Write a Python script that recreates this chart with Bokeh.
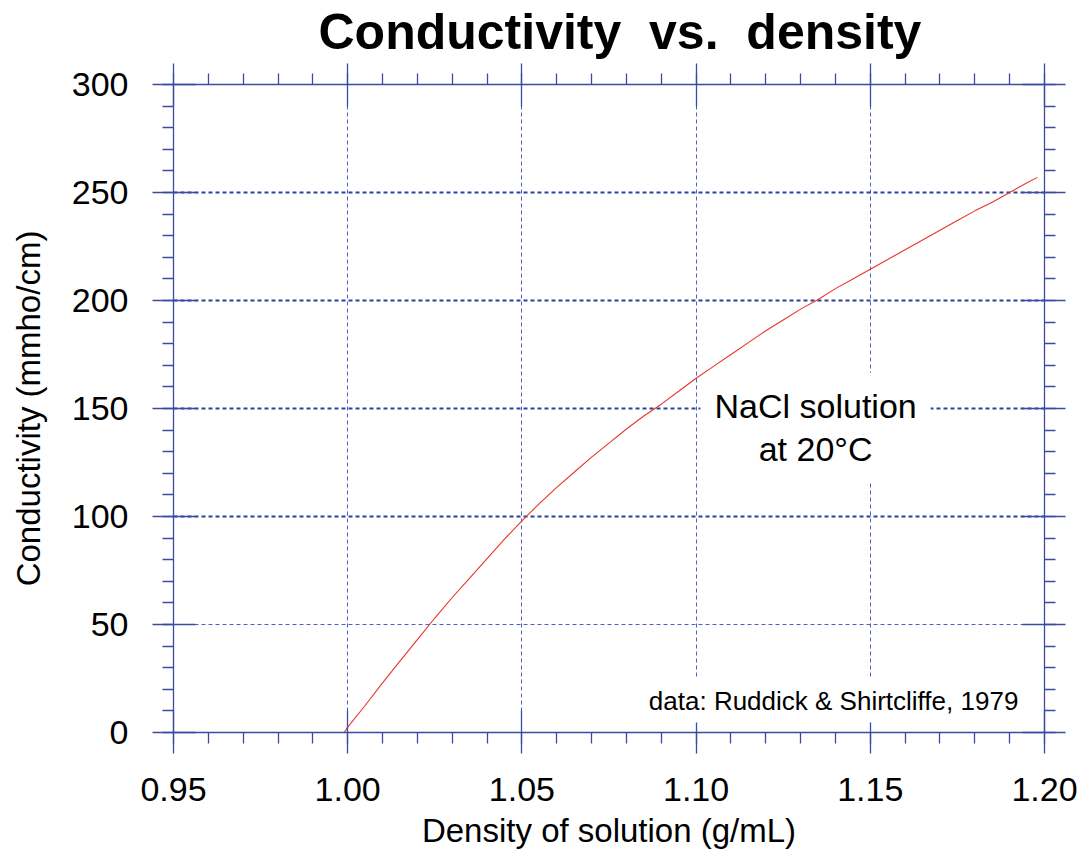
from bokeh.plotting import figure
from bokeh.models import (Range1d, LinearAxis, FixedTicker, Grid, Label, Title,
                          SingleIntervalTicker, PrintfTickFormatter,
                          CustomLabelingPolicy)
from bokeh.embed import file_html
from bokeh.resources import INLINE

# Conductivity of NaCl solutions at 20 °C against solution density
density = [0.999, 1.000, 1.005, 1.010, 1.015, 1.020, 1.025, 1.030, 1.035, 1.040,
           1.045, 1.050, 1.055, 1.060, 1.065, 1.070, 1.075, 1.080, 1.085, 1.090,
           1.095, 1.100, 1.105, 1.110, 1.115, 1.120, 1.125, 1.130, 1.135, 1.140,
           1.145, 1.150, 1.155, 1.160, 1.165, 1.170, 1.175, 1.180, 1.185, 1.190,
           1.195, 1.198]
conductivity = [0.0, 2.5, 12.5, 23.0, 33.0, 43.0, 53.0, 62.5, 71.5, 80.5,
                89.5, 98.0, 106.0, 113.5, 120.5, 127.5, 134.0, 140.5, 146.5, 152.0,
                158.0, 164.0, 169.5, 175.0, 180.5, 186.0, 191.0, 196.0, 200.5, 205.5,
                210.0, 214.5, 219.0, 223.5, 228.0, 232.5, 237.0, 241.5, 245.5, 250.0,
                254.5, 257.0]

x_major = [0.95, 1.00, 1.05, 1.10, 1.15, 1.20]
x_minor = [round(0.95 + 0.01 * i, 2) for i in range(26)]
x_grid_ticks = [1.00, 1.05, 1.10, 1.15]
y_grid_heavy = [100, 150, 200, 250]
y_grid_light = [50]

# non-breaking spaces keep the wide word gaps of the heading
title_text = "Conductivity\u00a0\u00a0vs.\u00a0\u00a0density"
x_title = "Density of solution (g/mL)"
y_title = "Conductivity (mmho/cm)"
note_text = "NaCl solution\nat 20\u00b0C"
source_text = "data: Ruddick & Shirtcliffe, 1979"

FONT = "Liberation Sans"
AXIS_BLUE = "#3a4ba3"
GRID_BLUE = "#2f42a0"
LIGHT_GRID = "#4c60c4"

p = figure(width=1078, height=852, output_backend="svg", toolbar_location=None,
           x_range=Range1d(0.95, 1.20), y_range=Range1d(0, 300),
           x_axis_type=None, y_axis_type=None,
           min_border_left=173, min_border_right=34,
           min_border_top=84, min_border_bottom=120)
p.outline_line_color = None
p.background_fill_color = "white"
p.border_fill_color = "white"

p.title = Title(text=title_text, text_font=FONT, text_font_size="50px",
                text_font_style="bold", text_color="black", align="left",
                offset=145, standoff=0)


def style_axis(ax, show_labels):
    ax.axis_line_color = AXIS_BLUE
    ax.axis_line_width = 1.3
    ax.major_tick_line_color = AXIS_BLUE
    ax.major_tick_line_width = 1.3
    ax.minor_tick_line_color = AXIS_BLUE
    ax.minor_tick_line_width = 1.3
    ax.major_tick_in = 22
    ax.major_tick_out = 21
    ax.minor_tick_in = 0
    ax.minor_tick_out = 11
    ax.major_label_text_font = FONT
    ax.major_label_text_color = "black"
    if show_labels:
        ax.major_label_text_font_size = "34px"
    else:
        # tick marks only, no numbers on the top and right frame edges
        ax.major_label_policy = CustomLabelingPolicy(code="return []")
        ax.major_label_text_font_size = "1px"
        ax.major_label_standoff = 0
    ax.axis_label_text_font = FONT
    ax.axis_label_text_font_style = "normal"
    ax.axis_label_text_font_size = "33px"
    ax.axis_label_text_color = "black"


def x_ticker():
    return FixedTicker(ticks=x_major, minor_ticks=x_minor)


def y_ticker():
    return SingleIntervalTicker(interval=50, num_minor_ticks=5)


xb = LinearAxis(ticker=x_ticker(), formatter=PrintfTickFormatter(format="%.2f"),
                axis_label=x_title)
style_axis(xb, True)
xb.major_label_standoff = 24
xb.axis_label_standoff = 8
p.add_layout(xb, "below")

xa = LinearAxis(ticker=x_ticker())
style_axis(xa, False)
p.add_layout(xa, "above")

yl = LinearAxis(ticker=y_ticker(), axis_label=y_title)
style_axis(yl, True)
yl.major_label_standoff = 24
yl.axis_label_standoff = 22
p.add_layout(yl, "left")

yr = LinearAxis(ticker=y_ticker())
style_axis(yr, False)
p.add_layout(yr, "right")

# grid lines
p.add_layout(Grid(dimension=0, ticker=FixedTicker(ticks=x_grid_ticks),
                  grid_line_color=LIGHT_GRID, grid_line_width=1,
                  grid_line_dash="4 3"))
p.add_layout(Grid(dimension=1, ticker=FixedTicker(ticks=y_grid_heavy),
                  grid_line_color=GRID_BLUE, grid_line_width=2.2,
                  grid_line_dash="4 3"))
p.add_layout(Grid(dimension=1, ticker=FixedTicker(ticks=y_grid_light),
                  grid_line_color=LIGHT_GRID, grid_line_width=1,
                  grid_line_dash="4 3"))

# note box sits over the grid but under the curve
p.add_layout(Label(x=1.1343, y=141.2, text=note_text, text_align="center",
                   text_baseline="middle", text_font=FONT, text_font_size="34px",
                   text_color="black", text_line_height=1.15,
                   background_fill_color="white", padding=14, level="underlay"))

p.line(density, conductivity, line_color="#e8352b", line_width=1.1)

p.add_layout(Label(x=1.1945, y=14.8, text=source_text, text_align="right",
                   text_baseline="middle", text_font=FONT, text_font_size="26px",
                   text_color="black", background_fill_color="white", padding=7))

open("out.html", "w").write(file_html(p, INLINE))
